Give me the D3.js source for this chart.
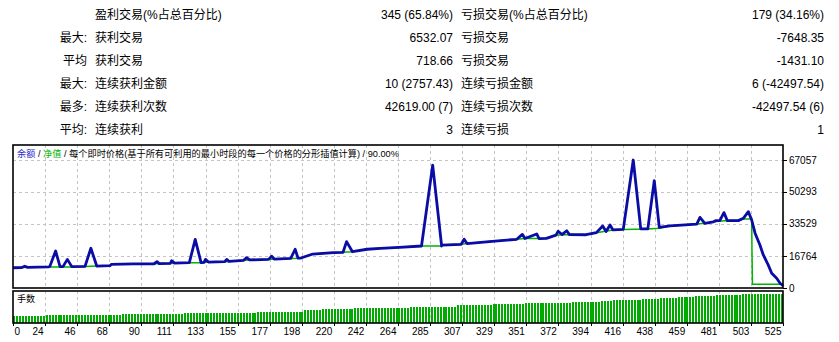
<!DOCTYPE html>
<html lang="zh">
  <head>
    <meta charset="UTF-8">
    <title>Tester Report</title>
    <script src="https://d3js.org/d3.v7.min.js"></script>
    <style>
      * {
        margin: 0;
        padding: 0;
      }
      body {
        background: #fff;
      }
      body > svg {
        display: block;
      }
      text {
        font-family: "Liberation Sans", Arial, "Noto Sans CJK SC", sans-serif;
        fill: #000;
      }
    </style>
  </head>
  <body>
    <script>
      // summary table, one entry per row
      var rowHeads = ["", "最大:", "平均", "最大:", "最多:", "平均:"];
      var winLabels = ["盈利交易(%占总百分比)", "获利交易", "获利交易", "连续获利金额", "连续获利次数", "连续获利"];
      var winValues = ["345 (65.84%)", "6532.07", "718.66", "10 (2757.43)", "42619.00 (7)", "3"];
      var lossLabels = ["亏损交易(%占总百分比)", "亏损交易", "亏损交易", "连续亏损金额", "连续亏损次数", "连续亏损"];
      var lossValues = ["179 (34.16%)", "-7648.35", "-1431.10", "6 (-42497.54)", "-42497.54 (6)", "1"];

      // axes
      var yTicks = [0, 16764, 33529, 50293, 67057];
      var xTickLabels = [0, 24, 46, 68, 90, 111, 133, 155, 177, 198, 220, 242, 264,
        285, 307, 329, 351, 372, 394, 416, 438, 459, 481, 503, 525];
      var totalTrades = 524;

      // balance (blue): [trade, value]
      var balance = [
        [0, 10600], [6, 10700], [8, 11400], [10, 10800], [24, 11100],
        [25, 11200], [29, 19400], [32, 11200],
        [34, 11200], [37, 15000], [40, 11200],
        [49, 11300], [53, 20800], [57, 11500],
        [66, 11700], [67, 12400], [82, 12600],
        [96, 12700], [98, 13800], [99.5, 12800],
        [107, 12900], [108, 14300], [110, 13000],
        [120, 13250], [124, 25500], [128, 13250],
        [130, 13400], [131, 15000], [133, 13600],
        [144, 13800], [145.6, 15000], [147, 13900],
        [157, 14500], [159, 15900], [161, 14700],
        [174, 15000], [176, 16700], [178, 15100],
        [189, 15500], [192, 20300], [194, 15600],
        [196, 15700], [204, 17800], [218, 18500],
        [224.6, 18700], [227, 24300], [231, 19000],
        [241, 20300], [250, 20800], [263, 21300], [278, 22000],
        [285.6, 64400], [291.7, 22000],
        [292, 22500], [305, 22900], [307, 25500], [309, 23300],
        [328, 24600], [342.8, 25500], [346.6, 28100], [348.4, 25900], [356.4, 28300], [358, 25900],
        [363, 26000], [369.5, 27700], [371, 29700], [373.6, 28000], [376.8, 30000], [378.7, 28000],
        [390, 27900], [397, 29000], [401.3, 32500], [403.6, 29600], [406.3, 33000], [408.3, 30400],
        [415.3, 30700], [422.1, 67050], [427.2, 31000], [432, 31000], [436.4, 56200], [439.8, 31800],
        [447, 32500], [465.3, 33500], [467.5, 37000], [470.8, 33900],
        [476.6, 34700], [478.4, 35300], [481, 35300], [483.8, 39500], [486.1, 35300],
        [493.6, 35300], [497, 36500], [500.4, 40000], [502.7, 35600],
        [505, 28700], [508.3, 22500], [510.6, 17300], [514, 12000], [516.3, 7700],
        [519.7, 5100], [522, 2500], [524, 1200]
      ];

      // equity (green): [trade, value]
      var equity = [
        [0, 10600], [24, 11100], [25, 11000], [40, 11000], [49, 11300], [57, 11500],
        [66, 11700], [67, 12400], [82, 12600], [96, 12700], [99.5, 12800], [107, 12900],
        [110, 13000], [120, 13250], [128, 13250], [130, 13400], [133, 13600], [144, 13800],
        [147, 13900], [157, 14500], [161, 14700], [174, 15000], [178, 15100], [189, 15500],
        [194, 15600], [196, 15700], [204, 17800], [218, 18500], [224.6, 18700], [231, 19000],
        [241, 20300], [250, 20800], [263, 21300], [278, 22000], [291.7, 22000], [292, 22500],
        [305, 22900], [309, 23300], [328, 24600], [342.8, 25500], [348.4, 25900], [358, 25900],
        [363, 26000], [369.5, 27700], [378.7, 28000], [390, 27900], [397, 29000], [408.3, 30400],
        [415.3, 30700], [432, 30900], [439.8, 31300], [447, 32500], [465.3, 33500], [470.8, 33900],
        [476.6, 34700], [486.1, 35300], [493.6, 35300], [497, 36100], [502.7, 36100],
        [502.9, 19000], [503.2, 2000], [524, 2000]
      ];

      // lots: value holds from each start trade on
      var lotStarts = [0, 22, 73, 116, 166, 197, 209, 231, 270, 301, 325, 348, 379, 400, 408, 427, 440, 451, 463, 477, 495];
      var lotValues = [0.22, 0.24, 0.27, 0.30, 0.32, 0.38, 0.41, 0.45, 0.50, 0.54, 0.57, 0.60, 0.63, 0.66, 0.69, 0.72, 0.75, 0.78, 0.81, 0.84, 0.87];

      var width = 839;
      var height = 342;

      var left = 13, right = 783;
      var mainTop = 145, mainBottom = 288;
      var lotTop = 291, lotBottom = 323;

      var svg = d3.select("body").append("svg")
        .attr("width", width)
        .attr("height", height);

      // ---- summary table ----
      var rowY = [15, 38, 61, 84, 107, 130];
      var table = svg.append("g").attr("font-size", "12px");
      rowY.forEach(function (y, i) {
        table.append("text").attr("x", 87).attr("y", y).attr("dy", "0.35em")
          .attr("text-anchor", "end").text(rowHeads[i]);
        table.append("text").attr("x", 95).attr("y", y).attr("dy", "0.35em").text(winLabels[i]);
        table.append("text").attr("x", 453).attr("y", y).attr("dy", "0.35em")
          .attr("text-anchor", "end").text(winValues[i]);
        table.append("text").attr("x", 461).attr("y", y).attr("dy", "0.35em").text(lossLabels[i]);
        table.append("text").attr("x", 824).attr("y", y).attr("dy", "0.35em")
          .attr("text-anchor", "end").text(lossValues[i]);
      });

      // ---- scales ----
      var x = d3.scaleLinear().domain([0, totalTrades]).range([left, right]);
      var y = d3.scaleLinear().domain([0, 67057]).range([mainBottom, 160]);
      var yLot = d3.scaleLinear().domain([0, 1]).range([lotBottom, lotTop - 1]);
      var xGrid = d3.scalePoint().domain(d3.range(xTickLabels.length)).range([left, right]);

      // ---- grid ----
      var grid = svg.append("g")
        .attr("stroke", "#c4c4c4")
        .attr("stroke-width", 1)
        .attr("stroke-dasharray", "3,3")
        .attr("shape-rendering", "crispEdges");

      grid.selectAll(".vg")
        .data(d3.range(1, xTickLabels.length - 1))
        .enter().append("line")
        .attr("x1", function (d) { return Math.round(xGrid(d)) + 0.5; })
        .attr("x2", function (d) { return Math.round(xGrid(d)) + 0.5; })
        .attr("y1", mainTop)
        .attr("y2", mainBottom);

      grid.selectAll(".vg2")
        .data(d3.range(1, xTickLabels.length - 1))
        .enter().append("line")
        .attr("x1", function (d) { return Math.round(xGrid(d)) + 0.5; })
        .attr("x2", function (d) { return Math.round(xGrid(d)) + 0.5; })
        .attr("y1", lotTop)
        .attr("y2", lotBottom);

      grid.selectAll(".hg")
        .data(yTicks.slice(1))
        .enter().append("line")
        .attr("x1", left)
        .attr("x2", right)
        .attr("y1", function (d) { return Math.round(y(d)) + 0.5; })
        .attr("y2", function (d) { return Math.round(y(d)) + 0.5; });

      // ---- lots bars ----
      function lotAt(t) {
        var v = lotValues[0];
        lotStarts.forEach(function (s, i) { if (t >= s) v = lotValues[i]; });
        return v;
      }
      var barTrades = d3.range(0, totalTrades, 2);
      svg.append("g")
        .attr("fill", "#00aa00")
        .attr("shape-rendering", "crispEdges")
        .selectAll("rect")
        .data(barTrades)
        .enter().append("rect")
        .attr("x", function (d) { return x(d + 1) - 1; })
        .attr("width", 2)
        .attr("y", function (d) { return yLot(lotAt(d)); })
        .attr("height", function (d) { return lotBottom - yLot(lotAt(d)); });

      // ---- lines ----
      var line = d3.line()
        .x(function (d) { return x(d[0]); })
        .y(function (d) { return y(d[1]); });

      svg.append("path")
        .datum(equity)
        .attr("d", line)
        .attr("fill", "none")
        .attr("stroke", "#00b400")
        .attr("stroke-width", 1.5);

      svg.append("path")
        .datum(balance)
        .attr("d", line)
        .attr("fill", "none")
        .attr("stroke", "#0b0ba5")
        .attr("stroke-width", 2.8)
        .attr("stroke-linejoin", "round");

      // ---- frames ----
      svg.append("rect")
        .attr("x", left).attr("y", mainTop)
        .attr("width", right - left).attr("height", mainBottom - mainTop)
        .attr("fill", "none").attr("stroke", "#000").attr("stroke-width", 1.6);

      svg.append("rect")
        .attr("x", left).attr("y", lotTop)
        .attr("width", right - left).attr("height", lotBottom - lotTop)
        .attr("fill", "none").attr("stroke", "#000").attr("stroke-width", 1.6);

      // ---- y axis (right) ----
      var yAxis = svg.append("g").attr("font-size", "10px");
      yAxis.selectAll("line")
        .data(yTicks)
        .enter().append("line")
        .attr("x1", right).attr("x2", right + 4)
        .attr("y1", function (d) { return Math.round(y(d)) + 0.5; })
        .attr("y2", function (d) { return Math.round(y(d)) + 0.5; })
        .attr("stroke", "#000");
      yAxis.selectAll("text")
        .data(yTicks)
        .enter().append("text")
        .attr("x", right + 6)
        .attr("y", function (d) { return y(d); })
        .attr("dy", "0.35em")
        .text(function (d) { return d; });

      // ---- x axis ----
      var xAxis = svg.append("g").attr("font-size", "10px");
      xAxis.selectAll("line")
        .data(d3.range(xTickLabels.length))
        .enter().append("line")
        .attr("x1", function (d) { return Math.round(xGrid(d)) + 0.5; })
        .attr("x2", function (d) { return Math.round(xGrid(d)) + 0.5; })
        .attr("y1", lotBottom).attr("y2", lotBottom + 3)
        .attr("stroke", "#000");
      xAxis.selectAll("text")
        .data(d3.range(xTickLabels.length))
        .enter().append("text")
        .attr("x", function (d) { return d === 0 ? left + 1.5 : xGrid(d) - 1.5; })
        .attr("y", 331.5)
        .attr("dy", "0.35em")
        .attr("text-anchor", function (d) { return d === 0 ? "start" : "end"; })
        .text(function (d) { return xTickLabels[d]; });

      // ---- captions ----
      var caption = svg.append("text")
        .attr("x", 17).attr("y", 154).attr("dy", "0.35em")
        .attr("font-size", "9.2px");
      caption.append("tspan").attr("fill", "#2a2ac8").text("余额");
      caption.append("tspan").text(" / ");
      caption.append("tspan").attr("fill", "#00b400").text("净值");
      caption.append("tspan").text(" / 每个即时价格(基于所有可利用的最小时段的每一个价格的分形插值计算) / 90.00%");

      svg.append("text")
        .attr("x", 17).attr("y", 299).attr("dy", "0.35em")
        .attr("font-size", "9px")
        .text("手数");
    </script>
  </body>
</html>
